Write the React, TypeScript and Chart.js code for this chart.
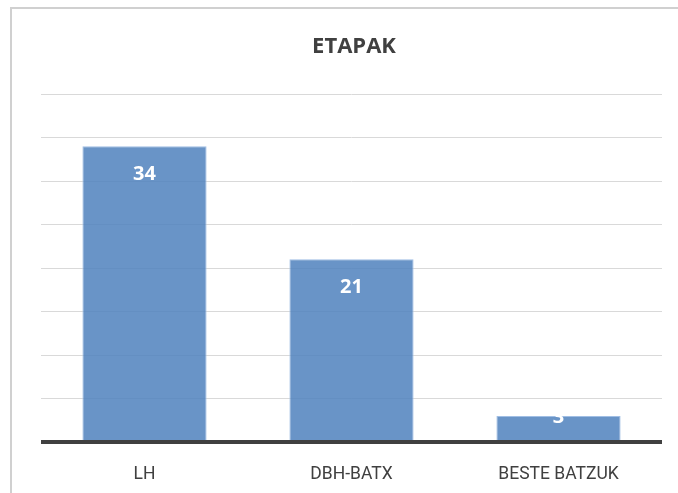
import React, { useEffect, useRef } from "react";
import { Chart, registerables } from "chart.js";

Chart.register(...registerables);

const categories = ["LH", "DBH-BATX", "BESTE BATZUK"];
const values = [34, 21, 3];
const chartTitle = "ETAPAK";
const yMax = 40;
const yStep = 5;

const BOLD_FONT = "'Open Sans', sans-serif";
const TICK_FONT = "Roboto, sans-serif";

export default function App() {
  const ref = useRef<HTMLCanvasElement | null>(null);

  useEffect(() => {
    if (!ref.current) return;
    const labelPlugin = {
      id: "barLabels",
      afterDatasetsDraw(chart: any) {
        const ctx = chart.ctx;
        const area = chart.chartArea;
        // baseline
        ctx.save();
        ctx.strokeStyle = "#404040";
        ctx.lineWidth = 4;
        ctx.beginPath();
        ctx.moveTo(area.left, area.bottom);
        ctx.lineTo(area.right, area.bottom);
        ctx.stroke();
        ctx.restore();

        const meta = chart.getDatasetMeta(0);
        ctx.save();
        ctx.fillStyle = "#ffffff";
        ctx.font = `bold 20px ${BOLD_FONT}`;
        ctx.textAlign = "center";
        ctx.textBaseline = "middle";
        meta.data.forEach((el: any, i: number) => {
          const h = el.base - el.y;
          const cy = h > 40 ? el.y + 28 : el.y + 1;
          ctx.fillText(String(values[i]), el.x, cy);
        });
        ctx.restore();
      },
    };
    const titlePlugin = {
      id: "customTitle",
      afterDraw(chart: any) {
        const ctx = chart.ctx;
        ctx.save();
        ctx.fillStyle = "#404040";
        ctx.font = `bold 22px ${BOLD_FONT}`;
        ctx.textAlign = "center";
        ctx.textBaseline = "middle";
        ctx.fillText(chartTitle, 354, 47);
        ctx.restore();
      },
    };
    const chart = new Chart(ref.current, {
      type: "bar",
      data: {
        labels: categories,
        datasets: [
          {
            data: values,
            backgroundColor: "rgba(79,129,189,0.85)",
            borderColor: "rgba(160,190,228,1)",
            borderWidth: 1,
            categoryPercentage: 1,
            barPercentage: 0.6,
          },
        ],
      },
      options: {
        animation: false,
        responsive: false,
        maintainAspectRatio: false,
        layout: { padding: { left: 41, right: 16, top: 94, bottom: 0 } },
        plugins: {
          legend: { display: false },
          title: { display: false },
          tooltip: { enabled: false },
        },
        scales: {
          x: {
            grid: { display: false, drawTicks: false },
            border: { display: false },
            ticks: {
              color: "#404040",
              font: { family: TICK_FONT, size: 17.5 },
              padding: 22,
              maxRotation: 0,
            },
            afterFit: (s: any) => {
              s.height = 51;
            },
          },
          y: {
            min: 0,
            max: yMax,
            ticks: { display: false, stepSize: yStep },
            grid: { color: "#d9d9d9", lineWidth: 1, drawTicks: false },
            border: { display: false },
            afterFit: (s: any) => {
              s.width = 0;
            },
          },
        },
      },
      plugins: [labelPlugin, titlePlugin],
    });
    return () => chart.destroy();
  }, []);

  return (
    <div style={{ position: "fixed", left: 0, top: 0, width: 678, height: 493, background: "#fff", overflow: "hidden" }}>
      <div
        style={{
          position: "absolute",
          left: 10,
          top: 7,
          width: 700,
          height: 520,
          borderLeft: "2px solid #d0d0d0",
          borderTop: "2px solid #d0d0d0",
        }}
      />
      <canvas ref={ref} width={678} height={493} style={{ position: "absolute", left: 0, top: 0 }} />
    </div>
  );
}
